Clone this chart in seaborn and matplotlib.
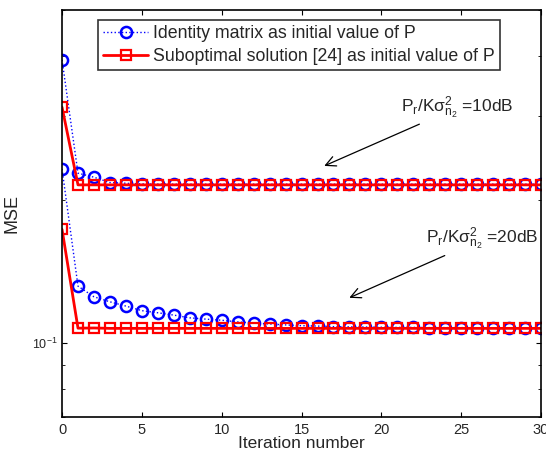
import matplotlib
matplotlib.use('Agg')
import matplotlib.pyplot as plt
import matplotlib.ticker as mticker
import seaborn as sns

# valores
iteracoes = list(range(31))

ident_10db = [0.393, 0.2273, 0.2229, 0.2172, 0.2165, 0.2158, 0.2156, 0.2155, 0.2155, 0.2155,
              0.2155, 0.2155, 0.2155, 0.2155, 0.2155, 0.2155, 0.2155, 0.2155, 0.2155, 0.2155,
              0.2155, 0.2155, 0.2155, 0.2155, 0.2155, 0.2155, 0.2155, 0.2155, 0.2155, 0.2155, 0.2155]
subot_10db = [0.3127, 0.2148, 0.2148, 0.2148, 0.2148, 0.2148, 0.2148, 0.2148, 0.2148, 0.2148,
              0.2148, 0.2148, 0.2148, 0.2148, 0.2148, 0.2148, 0.2148, 0.2148, 0.2148, 0.2148,
              0.2148, 0.2148, 0.2148, 0.2148, 0.2148, 0.2148, 0.2148, 0.2148, 0.2148, 0.2148, 0.2148]
ident_20db = [0.232, 0.1317, 0.1251, 0.1221, 0.1196, 0.1170, 0.1158, 0.1145, 0.1130, 0.1123,
              0.1117, 0.1108, 0.1102, 0.1097, 0.1092, 0.1088, 0.1086, 0.1083, 0.1082, 0.1081,
              0.1080, 0.1079, 0.1079, 0.1078, 0.1078, 0.1078, 0.1077, 0.1077, 0.1077, 0.1077, 0.1077]
subot_20db = [0.1733, 0.1075, 0.1076, 0.1074, 0.1074, 0.1074, 0.1074, 0.1074, 0.1074, 0.1074,
              0.1074, 0.1074, 0.1074, 0.1074, 0.1074, 0.1074, 0.1074, 0.1074, 0.1074, 0.1074,
              0.1074, 0.1074, 0.1074, 0.1074, 0.1074, 0.1074, 0.1074, 0.1074, 0.1074, 0.1074, 0.1074]

rotulo_ident = 'Identity matrix as initial value of P'
rotulo_subot = 'Suboptimal solution [24] as initial value of P'
texto_10 = r'$\mathregular{P_r/K\sigma^2_{n_2}}$ =10dB'
texto_20 = r'$\mathregular{P_r/K\sigma^2_{n_2}}$ =20dB'

sns.set_style('ticks')
plt.rcParams['font.family'] = ['Liberation Sans', 'DejaVu Sans']
plt.rcParams['xtick.direction'] = 'in'
plt.rcParams['ytick.direction'] = 'in'

fig = plt.figure(figsize=(5.46, 4.53), dpi=100)
ax = fig.add_axes([0.1136, 0.0795, 0.8774, 0.8985])

estilo_ident = dict(color='blue', linestyle=':', linewidth=1, marker='o', markersize=8,
                    markerfacecolor='none', markeredgewidth=1.8, markeredgecolor='blue')
estilo_subot = dict(color='red', linestyle='-', linewidth=2, marker='s', markersize=6.5,
                    markerfacecolor='none', markeredgewidth=1.6, markeredgecolor='red')

sns.lineplot(x=iteracoes, y=ident_10db, ax=ax, label=rotulo_ident, **estilo_ident)
sns.lineplot(x=iteracoes, y=subot_10db, ax=ax, label=rotulo_subot, **estilo_subot)
sns.lineplot(x=iteracoes, y=ident_20db, ax=ax, **estilo_ident)
sns.lineplot(x=iteracoes, y=subot_20db, ax=ax, **estilo_subot)

ax.set_yscale('log')
ax.set_xlim(0, 30)
ax.set_ylim(0.07, 0.5)
ax.set_xticks([0, 5, 10, 15, 20, 25, 30])
ax.yaxis.set_minor_formatter(mticker.NullFormatter())
ax.tick_params(which='both', top=True, right=True, labelsize=10.5, color='black')
ax.tick_params(axis='x', pad=4.5)
ax.tick_params(axis='y', which='major', labelsize=9)
for s in ax.spines.values():
    s.set_linewidth(1.2)
    s.set_color('black')

ax.set_xlabel('Iteration number', fontsize=12.5, labelpad=-1)
ax.set_ylabel('MSE', fontsize=13, labelpad=8)

leg = ax.legend(loc='upper left', bbox_to_anchor=(0.075, 0.975), borderaxespad=0,
                fontsize=12.8, frameon=True, fancybox=False, handlelength=2.5,
                handletextpad=0.3, borderpad=0.3, labelspacing=0.3)
leg.get_frame().set_edgecolor('black')
leg.get_frame().set_linewidth(1.2)

ax.annotate(texto_10, xy=(16.42, 0.2354), xytext=(21.2, 0.2926), fontsize=12.5,
            ha='left', va='bottom', textcoords='data',
            arrowprops=dict(arrowstyle='->', color='black', lw=0.9, shrinkA=0, shrinkB=0,
                            mutation_scale=18))
ax.annotate(texto_20, xy=(17.99, 0.1245), xytext=(22.77, 0.1551), fontsize=12.5,
            ha='left', va='bottom', textcoords='data',
            arrowprops=dict(arrowstyle='->', color='black', lw=0.9, shrinkA=0, shrinkB=0,
                            mutation_scale=18))

plt.savefig('out.png', dpi=100)
